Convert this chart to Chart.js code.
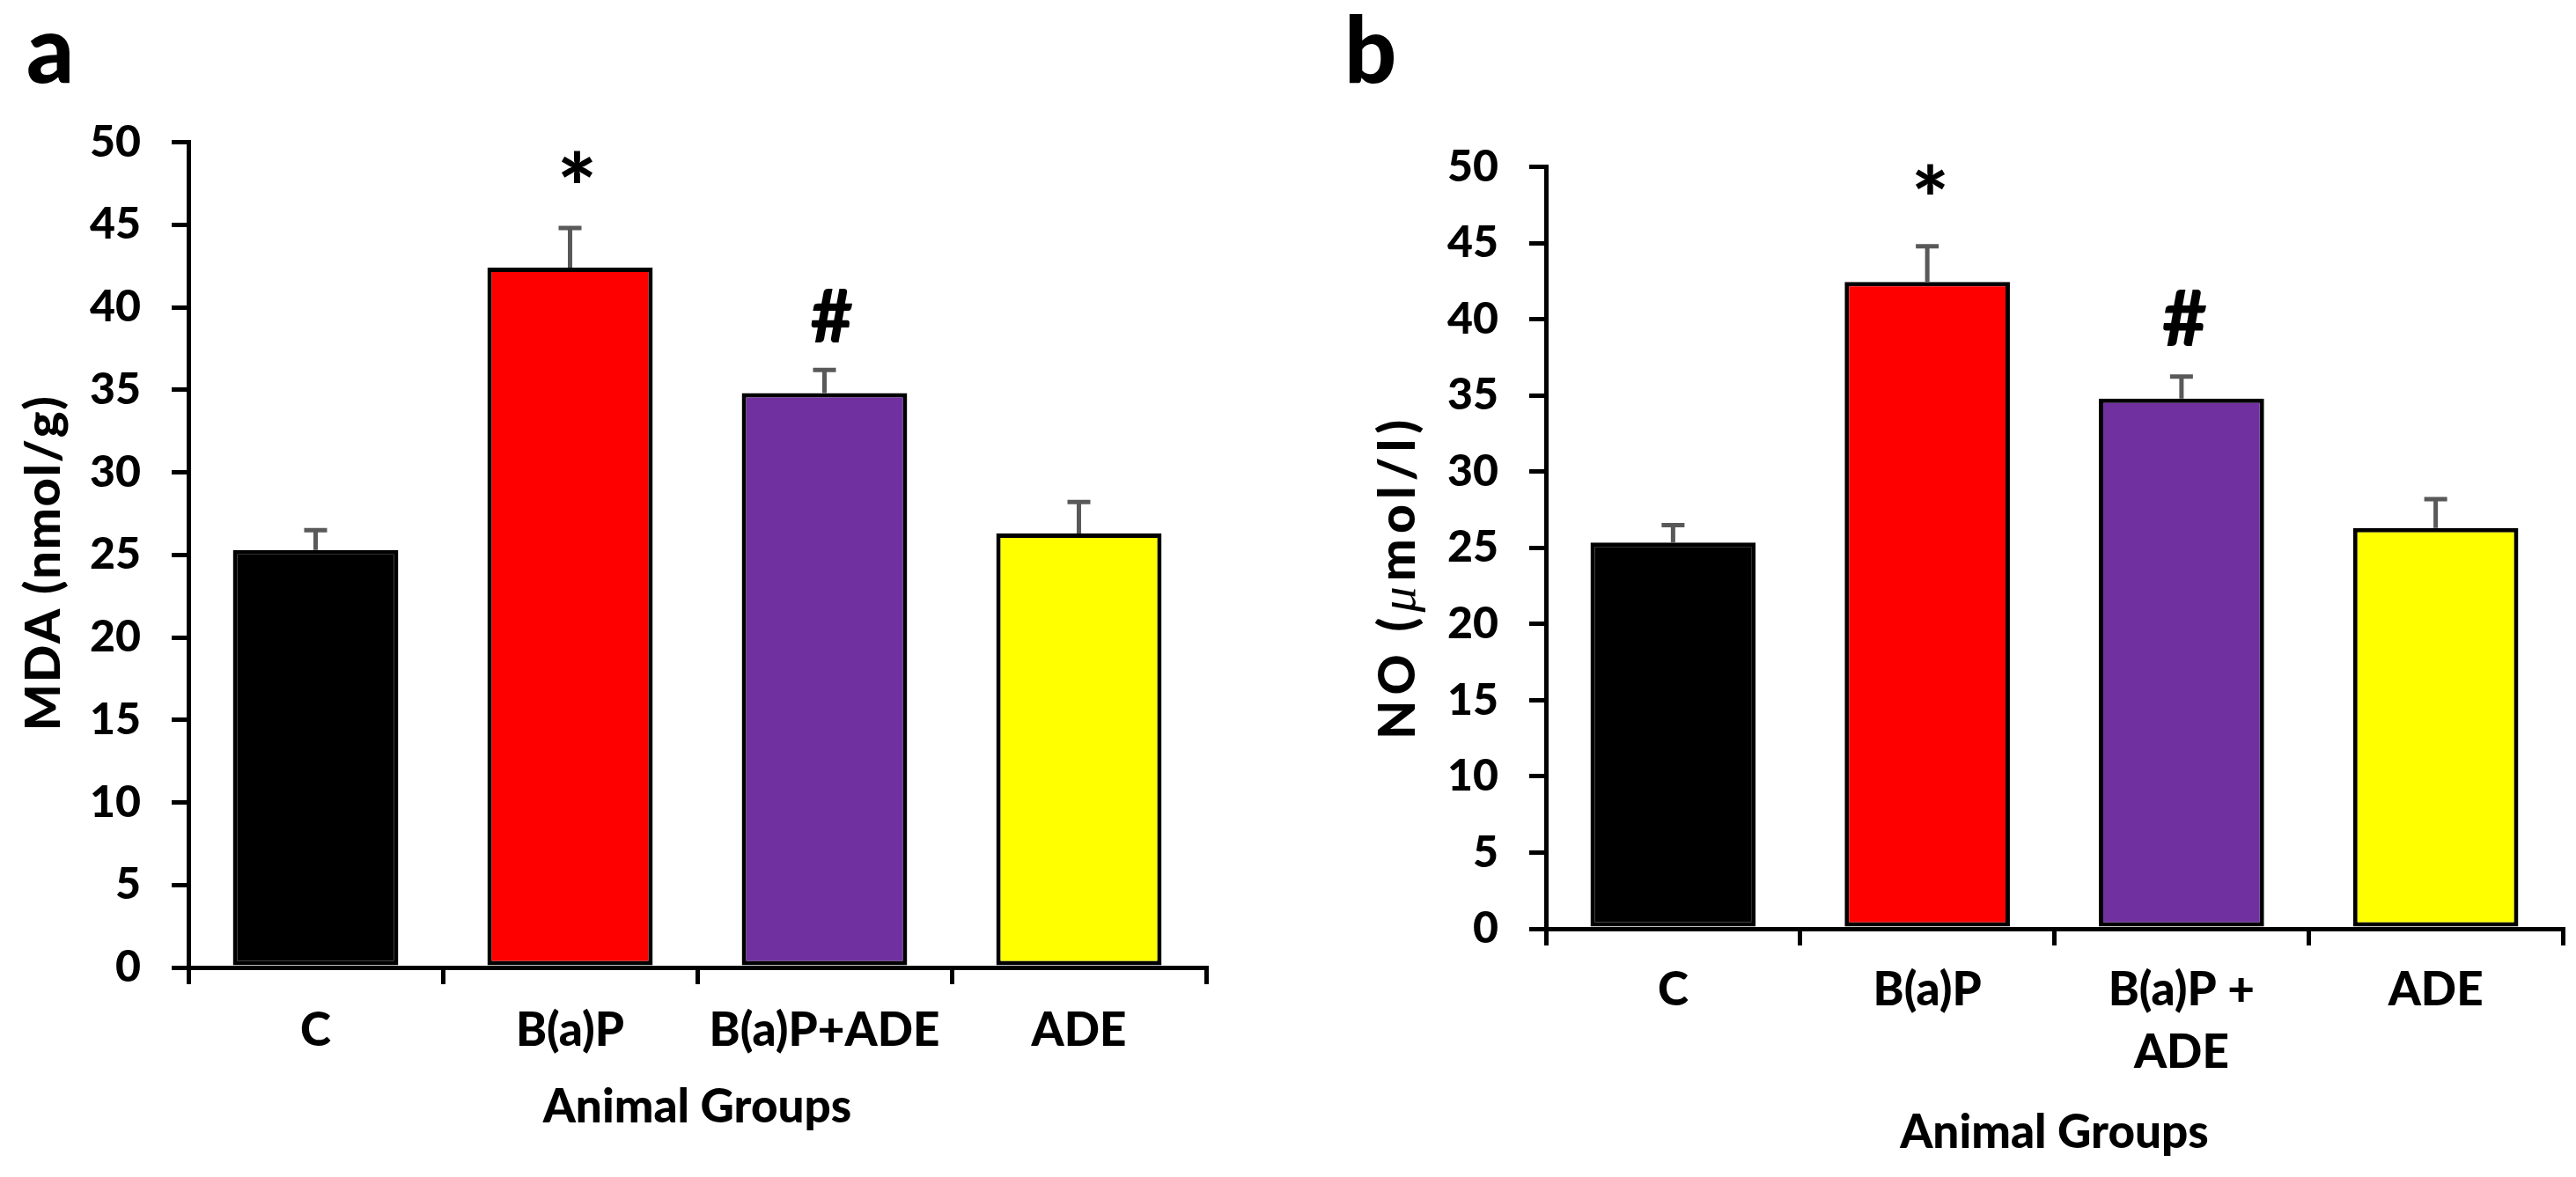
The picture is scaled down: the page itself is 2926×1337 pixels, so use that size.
<!DOCTYPE html>
<html>
<head>
<meta charset="utf-8">
<script src="https://cdn.jsdelivr.net/npm/chart.js@4.4.1/dist/chart.umd.min.js"></script>
<style>
html,body{margin:0;padding:0;background:#fff;}
#wrap{position:relative;width:2926px;height:1337px;overflow:hidden;background:#fff;}
canvas{position:absolute;top:0;}
</style>
</head>
<body>
<div id="wrap">
<canvas id="chartA" width="1463" height="1337" style="left:0;width:1463px;height:1337px"></canvas>
<canvas id="chartB" width="1463" height="1337" style="left:1463px;width:1463px;height:1337px"></canvas>
</div>
<script>
// ---- data ----
const categoriesA = ['C', 'B(a)P', 'B(a)P+ADE', 'ADE'];
const categoriesB = ['C', 'B(a)P', ['B(a)P +', 'ADE'], 'ADE'];
const mdaValues    = [25.3, 42.4, 34.8, 26.3];
const mdaErrorTops = [26.5, 44.8, 36.2, 28.2];
const noValues     = [25.35, 42.45, 34.8, 26.3];
const noErrorTops  = [26.5, 44.8, 36.25, 28.2];
const significanceMarks = ['', '*', '#', ''];
const yTickValues = [0, 5, 10, 15, 20, 25, 30, 35, 40, 45, 50];
const barColors = ['#000000', '#FF0000', '#7030A0', '#FFFF00'];

const CANVAS_H = 1337;
const W = 900; // font weight

function makeDecor(d) {
  return {
    id: 'decor',
    afterDatasetsDraw(chart) {
      const ctx = chart.ctx, y = chart.scales.y, meta = chart.getDatasetMeta(0);
      ctx.save();
      ctx.strokeStyle = '#595959';
      ctx.lineWidth = 5;
      meta.data.forEach((bar, i) => {
        const top = y.getPixelForValue(d.values[i]);
        const e = y.getPixelForValue(d.errs[i]);
        ctx.beginPath();
        ctx.moveTo(bar.x, top); ctx.lineTo(bar.x, e);
        ctx.moveTo(bar.x - 13, e); ctx.lineTo(bar.x + 13, e);
        ctx.stroke();
        const mk = d.marks[i];
        if (mk) {
          const spec = mk === '*' ? d.star : d.hash;
          ctx.font = W + ' 100px Lato';
          let m = ctx.measureText(mk);
          const h = m.actualBoundingBoxAscent + m.actualBoundingBoxDescent;
          const size = 100 * spec.h / h;
          ctx.font = W + ' ' + size + 'px Lato';
          m = ctx.measureText(mk);
          const bottom = e - spec.gap;
          const baseline = bottom - m.actualBoundingBoxDescent;
          const cx = bar.x + d.dx;
          const x0 = cx - (m.actualBoundingBoxRight - m.actualBoundingBoxLeft) / 2;
          ctx.fillStyle = '#000';
          ctx.textAlign = 'left';
          ctx.textBaseline = 'alphabetic';
          ctx.fillText(mk, x0, baseline);
        }
      });
      ctx.restore();
    },
    afterDraw(chart) {
      const ctx = chart.ctx;
      ctx.save();
      ctx.fillStyle = '#000';
      ctx.textBaseline = 'alphabetic';
      ctx.textAlign = 'left';
      // panel letter
      ctx.font = W + ' ' + d.letterSize + 'px Lato';
      const lm = ctx.measureText(d.letter);
      ctx.fillText(d.letter, d.letterX + lm.actualBoundingBoxLeft, d.letterBase);
      // y-axis title (rich text, rotated)
      const ca = chart.chartArea;
      const cy = (ca.top + ca.bottom) / 2 + d.yTitle.dy;
      const chars = [];
      d.yTitle.segments.forEach(s => { for (const c of s.t) chars.push({c, f: s.f}); });
      let natural = 0;
      chars.forEach(o => { ctx.font = o.f; o.w = ctx.measureText(o.c).width; natural += o.w; });
      const spacing = Math.max(0, (d.yTitle.len - natural) / (chars.length - 1));
      const total = natural + spacing * (chars.length - 1);
      ctx.translate(d.yTitle.baseX, cy);
      ctx.rotate(-Math.PI / 2);
      let x = -total / 2;
      chars.forEach(o => { ctx.font = o.f; ctx.fillText(o.c, x, 0); x += o.w + spacing; });
      ctx.restore();
    }
  };
}

function makeChart(id, cfg) {
  return new Chart(document.getElementById(id), {
    type: 'bar',
    data: {
      labels: cfg.labels,
      datasets: [{
        data: cfg.values,
        backgroundColor: barColors,
        borderColor: '#000000',
        borderWidth: 5,
        borderSkipped: false,
        barPercentage: 0.65,
        categoryPercentage: 1.0
      }]
    },
    options: {
      responsive: false,
      animation: false,
      devicePixelRatio: 1,
      layout: { padding: { top: cfg.top, right: cfg.right, left: 0, bottom: 0 } },
      plugins: { legend: { display: false }, tooltip: { enabled: false }, title: { display: false } },
      scales: {
        x: {
          type: 'category',
          offset: true,
          z: 1,
          grid: { display: true, offset: true, drawOnChartArea: false, drawTicks: true, tickLength: 19, lineWidth: 5, color: '#000' },
          border: { display: true, color: '#000', width: 5 },
          ticks: {
            color: '#000', autoSkip: false, maxRotation: 0, minRotation: 0,
            padding: cfg.xTickPad,
            font: { family: 'Lato', weight: W, size: 53, lineHeight: 1.35 }
          },
          title: {
            display: true, text: 'Animal Groups', color: '#000',
            font: { family: 'Lato', weight: W, size: 53, lineHeight: 1.2 },
            padding: { top: 0, bottom: cfg.xTitlePad }
          },
          afterFit(s) { s.height = CANVAS_H - cfg.bottom; s.paddingLeft = 0; s.paddingRight = 0; }
        },
        y: {
          min: 0, max: 50,
          z: 1,
          afterBuildTicks(s) { s.ticks = yTickValues.map(v => ({ value: v })); },
          grid: { display: true, drawOnChartArea: false, drawTicks: true, tickLength: 19, lineWidth: 5, color: '#000' },
          border: { display: true, color: '#000', width: 5 },
          ticks: { color: '#000', padding: 35, font: { family: 'Lato', weight: W, size: 50 } },
          afterFit(s) { s.width = cfg.left; s.paddingTop = 0; s.paddingBottom = 0; }
        }
      }
    },
    plugins: [makeDecor(cfg.decor)]
  });
}

makeChart('chartA', {
  labels: categoriesA, values: mdaValues,
  top: 161.6, bottom: 1099, left: 214, right: 93,
  xTickPad: 17, xTitlePad: 47,
  decor: {
    values: mdaValues, errs: mdaErrorTops, marks: significanceMarks, dx: 8,
    star: { h: 37, gap: 51 }, hash: { h: 60, gap: 31 },
    letter: 'a', letterSize: 106, letterX: 32, letterBase: 94,
    yTitle: { segments: [{ t: 'MDA (nmol/g)', f: W + ' 56px Lato' }], baseX: 68, dy: 10, len: 380 }
  }
});

makeChart('chartB', {
  labels: categoriesB, values: noValues,
  top: 189.7, bottom: 1055, left: 293, right: 15,
  xTickPad: 15, xTitlePad: 18,
  decor: {
    values: noValues, errs: noErrorTops, marks: significanceMarks, dx: 3,
    star: { h: 35, gap: 59 }, hash: { h: 63, gap: 35 },
    letter: 'b', letterSize: 104, letterX: 69, letterBase: 94,
    yTitle: {
      segments: [
        { t: 'NO (', f: W + ' 57px Lato' },
        { t: '\u03BC', f: 'italic 58px "Liberation Serif"' },
        { t: 'mol/l)', f: W + ' 57px Lato' }
      ],
      baseX: 144, dy: 36, len: 363
    }
  }
});
</script>
</body>
</html>
